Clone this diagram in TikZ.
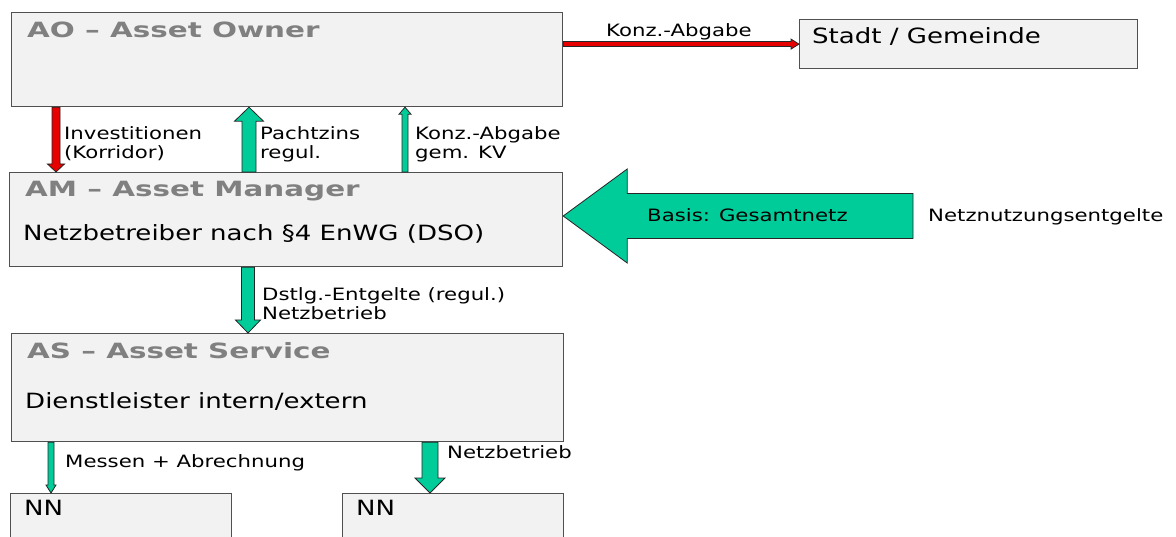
\documentclass[tikz,border=0pt]{standalone}
\usepackage{fontspec}
\setmainfont{DejaVu Sans}
\newfontfamily\ttlfont[FakeStretch=1.4]{DejaVu Sans}
\newfontfamily\bigfont[FakeStretch=1.24]{DejaVu Sans}
\newfontfamily\lblfont[FakeStretch=1.25]{DejaVu Sans}
\usetikzlibrary{calc}

\definecolor{kastenfuell}{RGB}{242,242,242}
\definecolor{rahmen}{RGB}{80,80,80}
\definecolor{titelgrau}{RGB}{128,128,128}
\definecolor{gruen}{RGB}{0,204,153}
\definecolor{rot}{RGB}{230,0,0}

\tikzset{
  kasten/.style={draw=rahmen, fill=kastenfuell, line width=1.2pt, anchor=north west, inner sep=0pt},
  titel/.style={anchor=base west, inner sep=0pt, text=titelgrau, font=\ttlfont\bfseries\fontsize{21}{25}\selectfont},
  gross/.style={anchor=base west, inner sep=0pt, font=\bigfont\fontsize{21}{25}\selectfont},
  beschr/.style={anchor=base west, inner sep=0pt, align=left, font=\lblfont\fontsize{17}{19.5}\selectfont},
}

% Blockpfeil: Farbe, von, nach, halbe Schaftbreite, halbe Spitzenbreite, Spitzenlaenge
\newcommand{\blockpfeil}[6]{%
  \coordinate (bp-h) at ($(#3)!#6!(#2)$);
  \filldraw[fill=#1, draw=black!85, line width=0.8pt, line join=miter]
    ($(#2)!#4!90:(#3)$) -- ($(bp-h)!#4!90:(#3)$) -- ($(bp-h)!#5!90:(#3)$) -- (#3)
    -- ($(bp-h)!#5!-90:(#3)$) -- ($(bp-h)!#4!-90:(#3)$) -- ($(#2)!#4!-90:(#3)$) -- cycle;
}

\begin{document}
\begin{tikzpicture}[x=1pt, y=-1pt]
    \clip (0,0) rectangle (1176,537);
    \fill[white] (0,0) rectangle (1176,537);

    % Kaesten
    \node[kasten, minimum width=551pt, minimum height=94pt] (AO) at (11,12) {};
    \node[kasten, minimum width=553pt, minimum height=94pt] (AM) at (9,172) {};
    \node[kasten, minimum width=552pt, minimum height=108pt] (AS) at (11,333) {};
    \node[kasten, minimum width=338pt, minimum height=49pt] (stadt) at (799,19) {};
    \node[kasten, minimum width=221pt, minimum height=70pt] (NN1) at (10,493) {};
    \node[kasten, minimum width=221pt, minimum height=70pt] (NN2) at (342,493) {};

    % Texte in den Kaesten
    \node[titel] (AOtitel) at (27,38) {AO – Asset Owner};
    \node[titel] (AMtitel) at (25,197) {AM – Asset Manager};
    \node[titel] (AStitel) at (27,359) {AS – Asset Service};
    \node[gross] (dso) at (23,241) {Netzbetreiber nach §4 EnWG (DSO)};
    \node[gross] (dienst) at (25,408) {Dienstleister intern/extern};
    \node[gross] (stadttext) at (812,44) {Stadt / Gemeinde};
    \node[gross] (NN1text) at (24,515) {NN};
    \node[gross] (NN2text) at (356,515) {NN};

    % Pfeile zwischen AO und AM
    \coordinate (inv-a) at ([xshift=45pt]AO.south west);
    \coordinate (inv-b) at (AM.north -| inv-a);
    \blockpfeil{rot}{inv-a}{inv-b}{4pt}{8.5pt}{8pt}
    \coordinate (pacht-a) at ([xshift=240pt]AM.north west);
    \coordinate (pacht-b) at (AO.south -| pacht-a);
    \blockpfeil{gruen}{pacht-a}{pacht-b}{7pt}{14.5pt}{14pt}
    \coordinate (konz-a) at ([xshift=396pt]AM.north west);
    \coordinate (konz-b) at (AO.south -| konz-a);
    \blockpfeil{gruen}{konz-a}{konz-b}{3pt}{6pt}{7pt}

    % Konzessionsabgabe an die Stadt
    \coordinate (kstadt) at (AO.east |- stadt.west);
    \blockpfeil{rot}{kstadt}{stadt.west}{2.5pt}{5pt}{8pt}

    % Netznutzungsentgelte
    \coordinate (nne) at (913,216);
    \coordinate (nne-b) at (AM.east |- nne);
    \blockpfeil{gruen}{nne}{nne-b}{22.5pt}{47pt}{64pt}

    % AM nach AS
    \coordinate (dst-a) at ([xshift=239pt]AM.south west);
    \coordinate (dst-b) at (AS.north -| dst-a);
    \blockpfeil{gruen}{dst-a}{dst-b}{6.5pt}{12.5pt}{13pt}

    % AS nach NN
    \coordinate (mess-a) at ([xshift=40pt]AS.south west);
    \coordinate (mess-b) at (NN1.north -| mess-a);
    \blockpfeil{gruen}{mess-a}{mess-b}{3pt}{5pt}{8pt}
    \coordinate (nb-a) at ([xshift=419pt]AS.south west);
    \coordinate (nb-b) at (NN2.north -| nb-a);
    \blockpfeil{gruen}{nb-a}{nb-b}{8pt}{15pt}{15pt}

    % Beschriftungen (Grundlinie der letzten Zeile)
    \node[beschr] (konzlbl) at (606,37) {Konz.-Abgabe};
    \node[beschr] (invlbl) at (64,159) {Investitionen\\(Korridor)};
    \node[beschr] (pachtlbl) at (260,159) {Pachtzins\\regul.};
    \node[beschr] (konzkv) at (415,159) {Konz.-Abgabe\\gem. KV};
    \node[beschr] (basis) at (647,222) {Basis: Gesamtnetz};
    \node[beschr] (nnelbl) at (928,222) {Netznutzungsentgelte};
    \node[beschr] (dstlbl) at (262,320) {Dstlg.-Entgelte (regul.)\\Netzbetrieb};
    \node[beschr] (messlbl) at (65,467) {Messen + Abrechnung};
    \node[beschr] (nblbl) at (447,458) {Netzbetrieb};
\end{tikzpicture}
\end{document}
